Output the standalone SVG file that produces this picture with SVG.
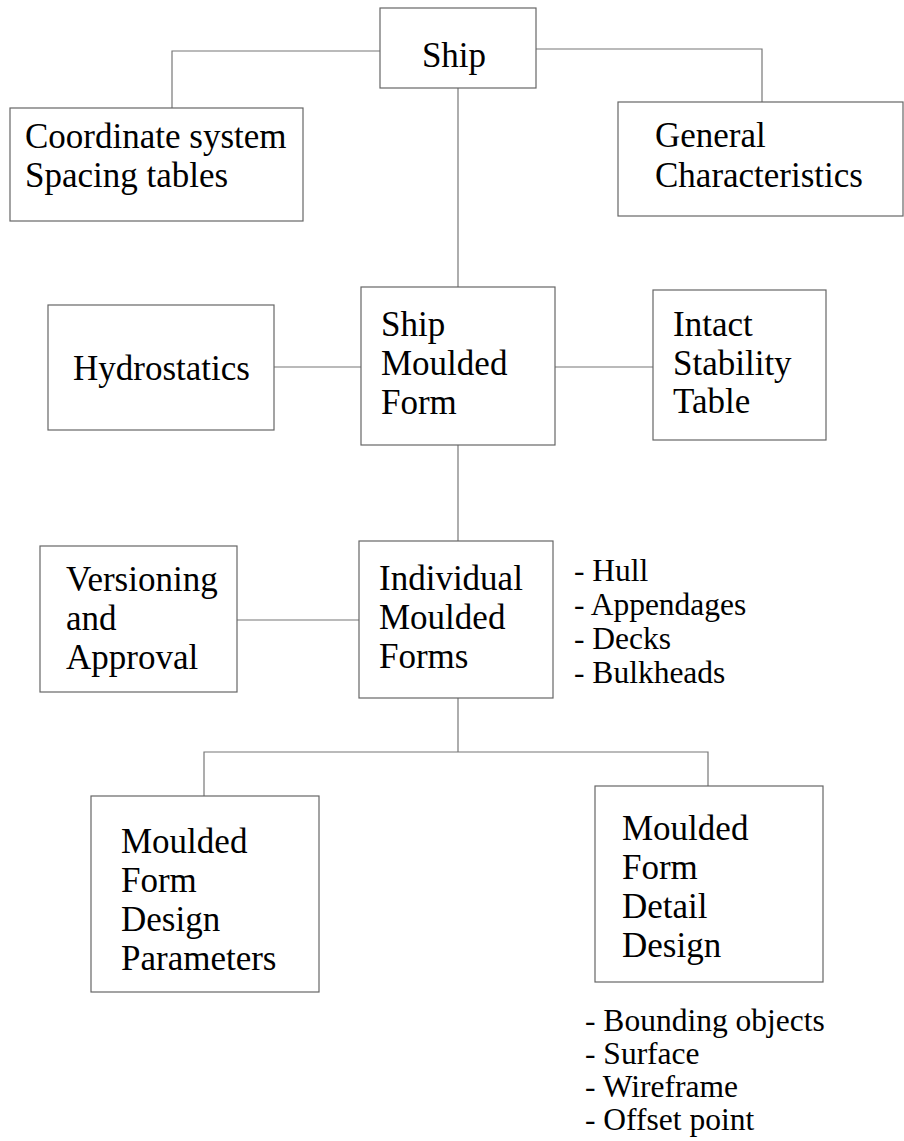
<svg xmlns="http://www.w3.org/2000/svg" width="904" height="1141" viewBox="0 0 904 1141">
<style>
.box{fill:#fff;stroke:#666;stroke-width:1.2}
.t{font-family:"Liberation Serif","Times New Roman",serif;font-size:35px;fill:#000}
.s{font-family:"Liberation Serif","Times New Roman",serif;font-size:31.5px;fill:#000}
.c{fill:none;stroke:#777;stroke-width:1.2}
</style>
<rect width="904" height="1141" fill="#fff"/>
<g id="connectors">
<polyline class="c" points="380,51 172,51 172,108"/>
<polyline class="c" points="536,49 762,49 762,102"/>
<line class="c" x1="458" y1="88" x2="458" y2="287"/>
<line class="c" x1="274" y1="367" x2="361" y2="367"/>
<line class="c" x1="555" y1="367" x2="653" y2="367"/>
<line class="c" x1="458" y1="445" x2="458" y2="541"/>
<line class="c" x1="237" y1="620" x2="359" y2="620"/>
<line class="c" x1="458" y1="698" x2="458" y2="752"/>
<polyline class="c" points="204,796 204,752 708,752 708,786"/>
</g>
<g id="ship">
<rect class="box" x="380" y="8" width="156" height="80"/>
<text class="t" x="454" y="67" text-anchor="middle">Ship</text>
</g>
<g id="coordinate">
<rect class="box" x="10" y="108" width="293" height="113"/>
<text class="t" x="25" y="148">Coordinate system</text>
<text class="t" x="25" y="187">Spacing tables</text>
</g>
<g id="general">
<rect class="box" x="618" y="102" width="285" height="114"/>
<text class="t" x="655" y="147">General</text>
<text class="t" x="655" y="187">Characteristics</text>
</g>
<g id="hydrostatics">
<rect class="box" x="48" y="305" width="226" height="125"/>
<text class="t" x="73" y="380">Hydrostatics</text>
</g>
<g id="ship-moulded-form">
<rect class="box" x="361" y="287" width="194" height="158"/>
<text class="t" x="381" y="336">Ship</text>
<text class="t" x="381" y="375">Moulded</text>
<text class="t" x="381" y="414">Form</text>
</g>
<g id="intact">
<rect class="box" x="653" y="290" width="173" height="150"/>
<text class="t" x="673" y="336">Intact</text>
<text class="t" x="673" y="375">Stability</text>
<text class="t" x="673" y="413">Table</text>
</g>
<g id="versioning">
<rect class="box" x="40" y="546" width="197" height="146"/>
<text class="t" x="66" y="591">Versioning</text>
<text class="t" x="66" y="630">and</text>
<text class="t" x="66" y="669">Approval</text>
</g>
<g id="individual">
<rect class="box" x="359" y="541" width="194" height="157"/>
<text class="t" x="379" y="590">Individual</text>
<text class="t" x="379" y="629">Moulded</text>
<text class="t" x="379" y="668">Forms</text>
</g>
<g id="imf-list">
<text class="s" x="574" y="581">- Hull</text>
<text class="s" x="574" y="615">- Appendages</text>
<text class="s" x="574" y="649">- Decks</text>
<text class="s" x="574" y="683">- Bulkheads</text>
</g>
<g id="design-parameters">
<rect class="box" x="91" y="796" width="228" height="196"/>
<text class="t" x="121" y="853">Moulded</text>
<text class="t" x="121" y="892">Form</text>
<text class="t" x="121" y="931">Design</text>
<text class="t" x="121" y="970">Parameters</text>
</g>
<g id="detail-design">
<rect class="box" x="595" y="786" width="228" height="196"/>
<text class="t" x="622" y="840">Moulded</text>
<text class="t" x="622" y="879">Form</text>
<text class="t" x="622" y="918">Detail</text>
<text class="t" x="622" y="957">Design</text>
</g>
<g id="detail-list">
<text class="s" x="585" y="1031">- Bounding objects</text>
<text class="s" x="585" y="1064">- Surface</text>
<text class="s" x="585" y="1097">- Wireframe</text>
<text class="s" x="585" y="1130">- Offset point</text>
</g>
</svg>
